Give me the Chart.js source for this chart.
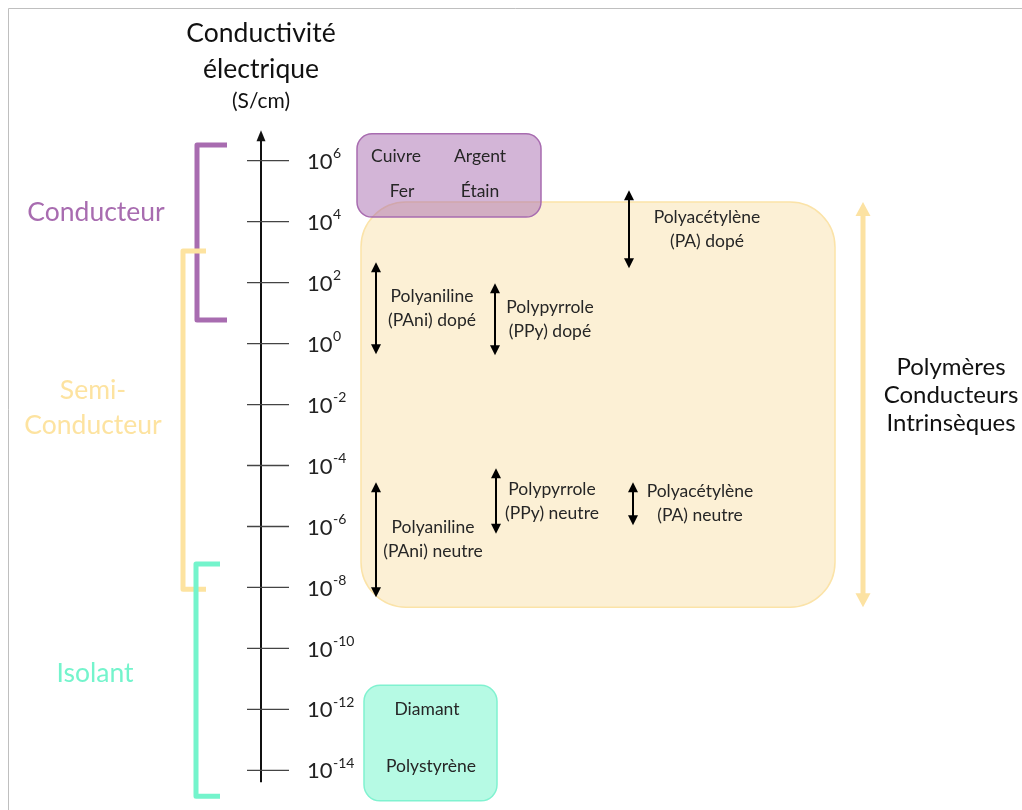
<!DOCTYPE html>
<html><head><meta charset="utf-8">
<script src="https://cdn.jsdelivr.net/npm/chart.js@4/dist/chart.umd.min.js"></script>
<style>html,body{margin:0;padding:0;background:#fff}#wrap{width:1022px;height:810px}</style>
</head><body><div id="wrap"><canvas id="c" width="1022" height="810"></canvas></div>
<script>
// ---- DATA (exponents of conductivity in S/cm, i.e. log10) ----
const tickExponents = [6, 4, 2, 0, -2, -4, -6, -8, -10, -12, -14];
const classNames = ['Conducteur', 'Semi-\nConducteur', 'Isolant'];
const classMin = [0.77, -8.06, -14.85];
const classMax = [6.51, 3.04, -7.23];
const metalNames = ['Cuivre', 'Argent', 'Fer', 'Étain'];
const metalValues = [6.15, 6.15, 5.0, 5.0];
const insulatorNames = ['Diamant', 'Polystyrène'];
const insulatorValues = [-12.0, -13.86];
const polymerNames = ['Polyaniline\n(PAni) dopé', 'Polypyrrole\n(PPy) dopé', 'Polyacétylène\n(PA) dopé',
                      'Polyaniline\n(PAni) neutre', 'Polypyrrole\n(PPy) neutre', 'Polyacétylène\n(PA) neutre'];
const polymerMin = [-0.35, -0.38, 2.47, -8.32, -6.24, -5.96];
const polymerMax = [2.67, 1.98, 5.03, -4.55, -4.09, -4.55];
const groupNames = ['Métaux', 'Polymères\nConducteurs\nIntrinsèques', 'Isolants'];
const groupMin = [4.15, -8.65, -15.0];
const groupMax = [6.88, 4.64, -11.21];
const axisTitle = ['Conductivité', 'électrique', '(S/cm)'];

// ---- LAYOUT / STYLE ----
const FONT = 'Lato, "DejaVu Sans", sans-serif';
const layout = {
  yMin: -15.30, yMax: 11.27,
  axisX: 261, axisTop: 7.0, axisBottom: -14.39, tickL: 247, tickR: 289, tickLabelX: 307,
  classColors: ['#A86CB0', '#FDE3A0', '#74F4CC'],
  classBracketX: [197, 183, 196], classBracketEnd: [227, 206, 220],
  classLabelX: [96, 93, 95], classLabelY: [4.31, -2.10, -10.81],
  metalX: [396, 480, 402, 480],
  insulatorX: [427, 431],
  polymerX: [376, 495, 629, 376, 496, 633],
  polymerLabelX: [432, 550, 707, 433, 552, 700],
  groupX1: [357, 361, 364], groupX2: [541, 835, 497], groupR: [15, 45, 16],
  groupFill: ['rgba(168,108,176,0.5)', '#FCF0D5', '#B6FAE4'],
  groupStroke: ['#A86CB0', '#FBE3A8', '#80F2D0'],
  bigArrowX: 863, bigLabelX: 951, bigLabelY: -1.69
};

function roundRect(ctx, x, y, w, h, r) {
  ctx.beginPath();
  ctx.moveTo(x + r, y);
  ctx.arcTo(x + w, y, x + w, y + h, r);
  ctx.arcTo(x + w, y + h, x, y + h, r);
  ctx.arcTo(x, y + h, x, y, r);
  ctx.arcTo(x, y, x + w, y, r);
  ctx.closePath();
}
function vArrow(ctx, x, yTop, yBot, color, lw, hw, hl, both) {
  ctx.save();
  ctx.strokeStyle = color; ctx.fillStyle = color; ctx.lineWidth = lw;
  ctx.beginPath(); ctx.moveTo(x, yTop + hl * 0.7); ctx.lineTo(x, both === false ? yBot : yBot - hl * 0.7); ctx.stroke();
  ctx.beginPath(); ctx.moveTo(x, yTop); ctx.lineTo(x - hw / 2, yTop + hl); ctx.lineTo(x + hw / 2, yTop + hl); ctx.closePath(); ctx.fill();
  if (both !== false) {
    ctx.beginPath(); ctx.moveTo(x, yBot); ctx.lineTo(x - hw / 2, yBot - hl); ctx.lineTo(x + hw / 2, yBot - hl); ctx.closePath(); ctx.fill();
  }
  ctx.restore();
}
function multiText(ctx, text, x, yc, lh) {
  const lines = text.split('\n');
  const y0 = yc - (lines.length - 1) * lh / 2;
  lines.forEach((l, i) => ctx.fillText(l, x, y0 + i * lh));
}

const diagram = {
  id: 'diagram',
  afterDraw(chart) {
    const ctx = chart.ctx, xs = chart.scales.x, ys = chart.scales.y;
    const X = v => xs.getPixelForValue(v), Y = v => ys.getPixelForValue(v);
    ctx.save();
    ctx.textAlign = 'center'; ctx.textBaseline = 'middle';

    // frame
    ctx.strokeStyle = '#BFBFBF'; ctx.lineWidth = 1;
    ctx.beginPath(); ctx.moveTo(8.5, 810); ctx.lineTo(8.5, 8.5); ctx.lineTo(1022, 8.5); ctx.stroke();

    // axis title
    ctx.fillStyle = '#111';
    ctx.font = '26.5px ' + FONT;
    ctx.fillText(axisTitle[0], X(layout.axisX), 33);
    ctx.fillText(axisTitle[1], X(layout.axisX), 69);
    ctx.font = '21px ' + FONT;
    ctx.fillText(axisTitle[2], X(layout.axisX), 101);

    // class brackets
    classNames.forEach((n, i) => {
      const c = layout.classColors[i];
      ctx.strokeStyle = c; ctx.lineWidth = 5; ctx.lineJoin = 'round';
      const xv = X(layout.classBracketX[i]), xe = X(layout.classBracketEnd[i]);
      ctx.beginPath();
      ctx.moveTo(xe, Y(classMax[i])); ctx.lineTo(xv, Y(classMax[i]));
      ctx.lineTo(xv, Y(classMin[i])); ctx.lineTo(xe, Y(classMin[i]));
      ctx.stroke();
      ctx.fillStyle = c; ctx.font = '26.5px ' + FONT;
      multiText(ctx, n, X(layout.classLabelX[i]), Y(layout.classLabelY[i]), 35);
    });

    // vertical axis
    vArrow(ctx, X(layout.axisX), Y(layout.axisTop), Y(layout.axisBottom), '#111', 2, 9, 11, false);
    tickExponents.forEach(e => {
      const y = Y(e);
      ctx.strokeStyle = '#444'; ctx.lineWidth = 1.3;
      ctx.beginPath(); ctx.moveTo(X(layout.tickL), y); ctx.lineTo(X(layout.tickR), y); ctx.stroke();
      ctx.fillStyle = '#222'; ctx.textAlign = 'left';
      ctx.font = '22px ' + FONT;
      ctx.fillText('10', X(layout.tickLabelX), y + 1);
      const w = ctx.measureText('10').width;
      ctx.font = '14px ' + FONT;
      ctx.fillText(String(e), X(layout.tickLabelX) + w + 0.5, y - 7);
      ctx.textAlign = 'center';
    });

    const drawBox = (i) => {
      const x1 = X(layout.groupX1[i]), x2 = X(layout.groupX2[i]);
      const y1 = Y(groupMax[i]), y2 = Y(groupMin[i]);
      roundRect(ctx, x1, y1, x2 - x1, y2 - y1, layout.groupR[i]);
      ctx.fillStyle = layout.groupFill[i]; ctx.fill();
      ctx.strokeStyle = layout.groupStroke[i]; ctx.lineWidth = 1.5; ctx.stroke();
    };
    // polymer group (yellow) box
    drawBox(1);

    // polymer arrows
    polymerNames.forEach((n, i) => {
      const yt = Y(polymerMax[i]), yb = Y(polymerMin[i]);
      vArrow(ctx, X(layout.polymerX[i]), yt, yb, '#000', 2, 10, 10);
      ctx.fillStyle = '#262626'; ctx.font = '17.5px ' + FONT;
      multiText(ctx, n, X(layout.polymerLabelX[i]), (yt + yb) / 2, 24);
    });

    // big yellow arrow
    vArrow(ctx, X(layout.bigArrowX), Y(groupMax[1]), Y(groupMin[1]), '#FCE2A2', 5, 15, 14);
    ctx.fillStyle = '#111'; ctx.font = '24px ' + FONT;
    multiText(ctx, groupNames[1], X(layout.bigLabelX), Y(layout.bigLabelY), 28);

    // metals box
    drawBox(0);
    ctx.fillStyle = '#262626'; ctx.font = '17.5px ' + FONT;
    metalNames.forEach((n, i) => ctx.fillText(n, X(layout.metalX[i]), Y(metalValues[i])));

    // insulators box
    drawBox(2);
    ctx.fillStyle = '#262626';
    insulatorNames.forEach((n, i) => ctx.fillText(n, X(layout.insulatorX[i]), Y(insulatorValues[i])));

    ctx.restore();
  }
};

new Chart(document.getElementById('c'), {
  type: 'scatter',
  data: { datasets: [] },
  options: {
    responsive: false, animation: false,
    layout: { padding: 0 },
    plugins: { legend: { display: false }, tooltip: { enabled: false } },
    scales: {
      x: { type: 'linear', min: 0, max: 1022, display: false },
      y: { type: 'linear', min: layout.yMin, max: layout.yMax, display: false }
    }
  },
  plugins: [diagram]
});
</script></body></html>
